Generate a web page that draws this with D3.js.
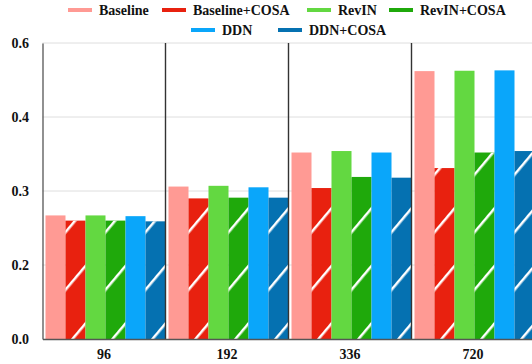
<!DOCTYPE html>
<html>
<head>
<meta charset="utf-8">
<script src="https://cdn.jsdelivr.net/npm/d3@7"></script>
<style>
  body{margin:0;background:#fff;}
</style>
</head>
<body>
<div class="bar-chart-container"></div>
<script>
//Data
const categories = ['96', '192', '336', '720'];
const seriesNames = ['Baseline', 'Baseline+COSA', 'RevIN', 'RevIN+COSA', 'DDN', 'DDN+COSA'];
const baseline      = [0.267, 0.306, 0.352, 0.524];
const baselineCosa  = [0.260, 0.290, 0.304, 0.331];
const revin         = [0.267, 0.307, 0.354, 0.525];
const revinCosa     = [0.260, 0.291, 0.319, 0.352];
const ddn           = [0.266, 0.305, 0.352, 0.526];
const ddnCosa       = [0.259, 0.291, 0.318, 0.354];
const yTicks = [0.0, 0.2, 0.3, 0.4, 0.6];
const colors = ['#ff9a94', '#e8210f', '#63d841', '#1fa90b', '#0aa6fa', '#0571b1'];

const seriesValues = [baseline, baselineCosa, revin, revinCosa, ddn, ddnCosa];
const barData = [];
categories.forEach((c, i) => {
  seriesNames.forEach((s, j) => {
    barData.push({category: c, series: s, value: seriesValues[j][i], cosa: s.includes('COSA')});
  });
});

const FONT = '"Liberation Serif","Times New Roman","DejaVu Serif",serif';

function styleText(sel){
  sel.style('font-size', '14px').style('font-family', FONT)
     .style('font-weight', 'bold').style('fill', '#111');
}

function setupCanvas(){
  const svg_width = 532;
  const svg_height = 364;
  const left = 42.5, right = 534.5, top = 43, bottom = 339;

  const svg = d3.select('.bar-chart-container').append('svg')
    .attr('width', svg_width).attr('height', svg_height);

  // hatch for the +COSA bars
  svg.append('defs').append('pattern')
    .attr('id', 'hatch').attr('patternUnits', 'userSpaceOnUse')
    .attr('width', 37).attr('height', 10)
    .attr('patternTransform', 'rotate(40)')
    .append('rect').attr('x', 0).attr('y', 0).attr('width', 2.5).attr('height', 10)
    .style('fill', '#fff');

  const xScale = d3.scaleBand().domain(categories).range([left, right]);
  const xInner = d3.scaleBand().domain(seriesNames).range([3, xScale.bandwidth()]);
  // equally spaced ticks -> piecewise linear scale
  const step = (bottom - top) / (yTicks.length - 1);
  const yScale = d3.scaleLinear().domain(yTicks).range(yTicks.map((d, i) => bottom - i * step));
  const color = d3.scaleOrdinal().domain(seriesNames).range(colors);

  // gridlines
  svg.append('g').selectAll('line').data(yTicks.slice(1)).enter()
    .append('line')
    .attr('x1', left).attr('x2', svg_width)
    .attr('y1', d => yScale(d)).attr('y2', d => yScale(d))
    .style('stroke', '#dedede').style('stroke-width', 1);

  const bars = svg.append('g').selectAll('g').data(barData).enter().append('g')
    .attr('transform', d => `translate(${xScale(d.category) + xInner(d.series)},0)`);
  bars.append('rect')
    .attr('y', d => yScale(d.value))
    .attr('width', xInner.bandwidth())
    .attr('height', d => yScale(0) - yScale(d.value))
    .style('fill', d => color(d.series));
  bars.filter(d => d.cosa).append('rect')
    .attr('y', d => yScale(d.value))
    .attr('width', xInner.bandwidth())
    .attr('height', d => yScale(0) - yScale(d.value))
    .style('fill', 'url(#hatch)');

  // group separators
  svg.append('g').selectAll('line').data(categories.slice(1)).enter()
    .append('line')
    .attr('x1', d => xScale(d)).attr('x2', d => xScale(d))
    .attr('y1', top).attr('y2', bottom)
    .style('stroke', '#333').style('stroke-width', 1.4);

  // axes
  const yAxis = d3.axisLeft(yScale).tickValues(yTicks).tickFormat(d3.format('.1f')).tickSize(0);
  const yAxisDraw = svg.append('g').attr('transform', `translate(${left},0)`).call(yAxis);
  yAxisDraw.select('.domain').style('stroke', '#555').style('stroke-width', 1.3);
  yAxisDraw.selectAll('text').attr('dx', '-0.75em').call(styleText);

  const xAxis = d3.axisBottom(xScale).tickSize(0).tickSizeOuter(0);
  const xAxisDraw = svg.append('g').attr('transform', `translate(0,${bottom})`).call(xAxis);
  xAxisDraw.select('.domain').style('stroke', '#555').style('stroke-width', 1.3);
  xAxisDraw.selectAll('text').attr('dy', '1.2em').call(styleText);

  // legend
  const legendPos = [[68, 10], [162, 10], [307, 10], [389, 10], [191, 30], [278, 30]];
  const legend = svg.append('g').selectAll('g').data(seriesNames).enter().append('g')
    .attr('transform', (d, i) => `translate(${legendPos[i][0]},${legendPos[i][1]})`);
  legend.append('rect').attr('x', 0).attr('y', -2).attr('width', 24).attr('height', 4)
    .style('fill', d => color(d));
  legend.append('text').attr('x', 31).attr('y', 5).text(d => d).call(styleText);
}

setupCanvas();
</script>
</body>
</html>
